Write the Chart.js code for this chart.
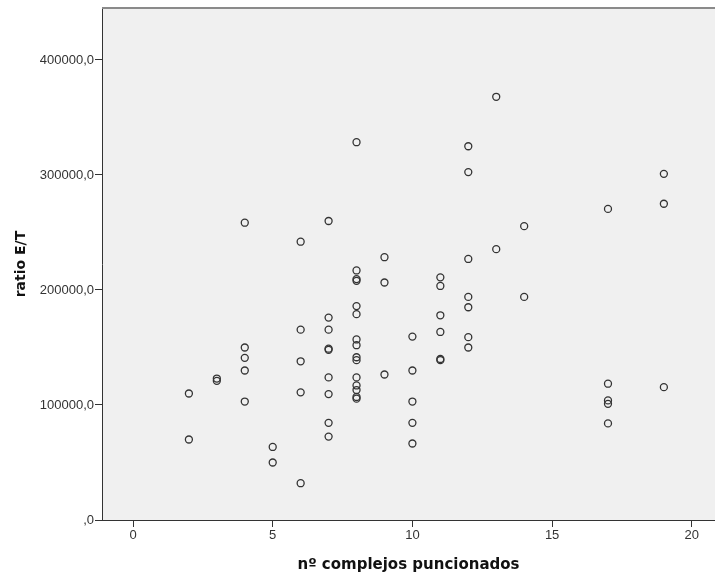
<!DOCTYPE html>
<html>
<head>
<meta charset="utf-8">
<script src="https://cdn.jsdelivr.net/npm/chart.js@4/dist/chart.umd.min.js"></script>
<style>
  html, body { margin: 0; padding: 0; background: #fff; }
  canvas { display: block; }
</style>
</head>
<body>
<canvas id="chart" width="715" height="578"></canvas>
<script>
// nº complejos puncionados (x) and ratio E/T (y), one entry per case
const complejos = [
  2, 2,
  3, 3,
  4, 4, 4, 4, 4,
  5, 5,
  6, 6, 6, 6, 6,
  7, 7, 7, 7, 7, 7, 7, 7, 7,
  8, 8, 8, 8, 8, 8, 8, 8, 8, 8, 8, 8, 8, 8, 8,
  9, 9, 9,
  10, 10, 10, 10, 10,
  11, 11, 11, 11, 11, 11,
  12, 12, 12, 12, 12, 12, 12,
  13, 13,
  14, 14,
  17, 17, 17, 17, 17,
  19, 19, 19
]
const ratioET = [
  110000, 70000,
  123000, 121000,
  258500, 150000, 141000, 130000, 103000,
  63500, 50000,
  242000, 165500, 138000, 111000, 32000,
  260000, 176000, 165500, 149000, 148000, 124000, 109500, 84500, 72500,
  328500, 217000, 209500, 208000, 186000, 179000, 157000, 152000, 141500, 139000, 124000, 117000, 113000, 107000, 105500,
  228500, 206500, 126500,
  159500, 130000, 103000, 84500, 66500,
  211000, 203500, 178000, 163500, 140000, 139000,
  325000, 302500, 227000, 194000, 185000, 159000, 150000,
  368000, 235500,
  255500, 194000,
  270500, 118500, 104000, 101000, 84000,
  301000, 275000, 115500
]
const xTicks = [0, 5, 10, 15, 20]
const yTicks = [0, 100000, 200000, 300000, 400000]

const points = complejos.map((x, i) => ({ x, y: ratioET[i] }))

// grey plot background and the thin top frame line
const plotFrame = {
  id: "plotFrame",
  beforeDraw(chart) {
    const { ctx, chartArea } = chart
    ctx.save()
    ctx.fillStyle = "#f0f0f0"
    ctx.fillRect(chartArea.left, chartArea.top, chartArea.right - chartArea.left, chartArea.bottom - chartArea.top)
    ctx.restore()
  },
  beforeDatasetsDraw(chart) {
    const { ctx, chartArea } = chart
    ctx.save()
    ctx.strokeStyle = "#8a8a8a"
    ctx.lineWidth = 2
    ctx.beginPath()
    ctx.moveTo(chartArea.left, chartArea.top)
    ctx.lineTo(chartArea.right, chartArea.top)
    ctx.stroke()
    ctx.restore()
  },
}

new Chart(document.getElementById("chart").getContext("2d"), {
  type: "scatter",
  data: {
    datasets: [
      {
        label: "ratio E/T",
        data: points,
        pointRadius: 3.5,
        pointHoverRadius: 3.5,
        pointBorderWidth: 1.3,
        pointBorderColor: "#333333",
        pointBackgroundColor: "rgba(0, 0, 0, 0)",
      },
    ],
  },
  options: {
    responsive: false,
    animation: false,
    layout: { autoPadding: false, padding: { top: 8, right: 0, left: 0, bottom: 0 } },
    plugins: {
      legend: { display: false },
      tooltip: { enabled: false },
    },
    scales: {
      x: {
        type: "linear",
        min: -1.11,
        max: 20.83,
        afterFit(scale) {
          scale.height = 58
          scale.paddingLeft = 0
          scale.paddingRight = 0
        },
        afterBuildTicks(scale) { scale.ticks = xTicks.map((v) => ({ value: v })) },
        grid: { drawOnChartArea: false, drawTicks: true, tickLength: 7, tickColor: "#333333", tickWidth: 1 },
        border: { display: true, color: "#333333", width: 1 },
        ticks: {
          padding: 1,
          color: "#333333",
          font: { family: "Liberation Sans, Arial", size: 13 },
          maxRotation: 0,
        },
        title: {
          display: true,
          text: "nº complejos puncionados",
          color: "#111111",
          font: { family: "DejaVu Sans", size: 15, weight: "bold" },
          padding: { top: 0, bottom: 4 },
        },
      },
      y: {
        type: "linear",
        min: 0,
        max: 445217,
        afterFit(scale) {
          scale.width = 102
          scale.paddingTop = 0
          scale.paddingBottom = 0
        },
        afterBuildTicks(scale) { scale.ticks = yTicks.map((v) => ({ value: v })) },
        grid: { drawOnChartArea: false, drawTicks: true, tickLength: 7, tickColor: "#333333", tickWidth: 1 },
        border: { display: true, color: "#333333", width: 1 },
        ticks: {
          padding: 1,
          color: "#333333",
          font: { family: "Liberation Sans, Arial", size: 13 },
          callback: (v) => (v === 0 ? ",0" : v + ",0"),
        },
        title: {
          display: true,
          text: "ratio E/T",
          color: "#111111",
          font: { family: "DejaVu Sans", size: 14, weight: "bold" },
          padding: { top: 12.6, bottom: 0 },
        },
      },
    },
  },
  plugins: [plotFrame],
})
</script>
</body>
</html>
